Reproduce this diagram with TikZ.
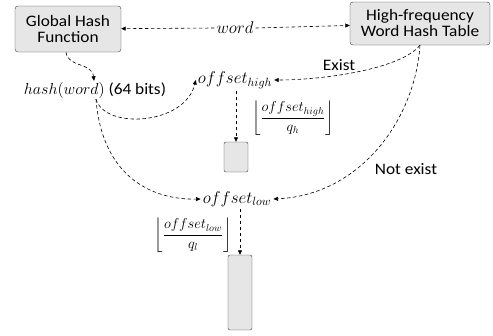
\RequirePackage{fix-cm}
\documentclass[tikz,border=0pt]{standalone}
\usepackage{fontspec}
\usepackage{amsmath}
\setmainfont{Carlito}[FakeStretch=1.08]
\usetikzlibrary{arrows.meta, positioning, calc}
\definecolor{boxgray}{RGB}{230, 230, 230}
\definecolor{linegray}{RGB}{60, 60, 60}

\begin{document}
\begin{tikzpicture}[
    x=1pt, y=1pt,
    font=\fontsize{16}{16}\selectfont,
    box/.style={draw=linegray, fill=boxgray, rounded corners=3pt, align=center, inner sep=0pt},
    bucket/.style={draw=linegray, fill=boxgray, rounded corners=2pt, minimum width=24pt, inner sep=0pt},
    arrow/.style={-{Triangle[length=4.5pt, width=4pt]}, dash pattern=on 3.5pt off 2.5pt, line width=0.6pt},
    tag/.style={inner sep=1pt},
    var/.style={inner sep=0pt, font=\fontsize{17}{17}\selectfont},
    formula/.style={inner sep=0pt, font=\fontsize{14.4}{14.4}\selectfont}
]
\useasboundingbox (0,0) rectangle (493,-335);

% Hash tables
\node[box, minimum width=106pt, minimum height=46pt] (ghf) at (68,-29) {Global Hash\\Function};
\node[box, minimum width=140pt, minimum height=43pt] (hft) at (420,-23.5) {High-frequency\\Word Hash Table};

% Values
\node[var] (word) at (235,-28) {$word$};
\node[tag] (hash) at (95,-90) {{\fontsize{16}{16}\selectfont$hash(word)$} (64 bits)};
\node[var] (oh) at (235,-80) {$offset_{high}$};
\node[var] (ol) at (237,-199) {$offset_{low}$};

% Buckets
\node[bucket, minimum height=30pt] (hb) at (236,-157) {};
\node[bucket, minimum height=75pt] (lb) at (240,-292.5) {};

% Index formulas
\node[formula] (fh) at (293,-118) {$\displaystyle\left\lfloor\frac{offset_{high}}{q_h}\right\rfloor$};
\node[formula] (fl) at (193,-235) {$\displaystyle\left\lfloor\frac{offset_{low}}{q_l}\right\rfloor$};

% Arrows
\draw[arrow] ([xshift=-2pt]word.west) -- (ghf);
\draw[arrow] ([xshift=2pt]word.east) -- (hft);
\draw[arrow] ([xshift=-2pt]ghf.south) .. controls (68,-68) and (92,-62) .. ([xshift=-1pt]hash.north);
\draw[arrow] ([xshift=1pt]hash.south) .. controls (105,-130) and (185,-125) .. ([xshift=-2pt]oh.west);
\draw[arrow] ([xshift=1pt]hash.south) .. controls (102,-175) and (150,-200) .. ([xshift=-2pt]ol.west);
\draw[arrow] (hft.south) .. controls (400,-70) and (320,-80) .. ([xshift=2pt]oh.east);
\node[tag] (ex) at (339,-65) {Exist};
\draw[arrow] (hft.south) .. controls (415,-120) and (360,-195) .. ([xshift=2pt]ol.east);
\node[tag] (nx) at (406,-169) {Not exist};
\draw[arrow] ([yshift=-2pt]hb.north |- oh.south) -- (hb.north);
\draw[arrow] ([yshift=-2pt]lb.north |- ol.south) -- (lb.north);

\end{tikzpicture}
\end{document}
